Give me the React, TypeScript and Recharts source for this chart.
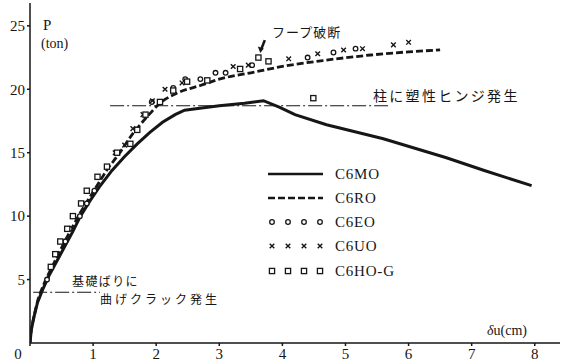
import {
  ComposedChart,
  Line,
  Scatter,
  XAxis,
  YAxis,
  ReferenceLine,
} from "recharts";

// ── Data (δu in cm, P in ton) ─────────────────────────────────────────────
const C6MO = [
  { x: 0, y: 0 }, { x: 0.02, y: 1 }, { x: 0.06, y: 2 }, { x: 0.12, y: 3.2 },
  { x: 0.2, y: 4.2 }, { x: 0.3, y: 5.3 }, { x: 0.42, y: 6.4 }, { x: 0.55, y: 7.6 },
  { x: 0.68, y: 8.8 }, { x: 0.8, y: 10 }, { x: 0.95, y: 11.2 }, { x: 1.1, y: 12.3 },
  { x: 1.3, y: 13.6 }, { x: 1.5, y: 14.7 }, { x: 1.7, y: 15.7 }, { x: 1.9, y: 16.6 },
  { x: 2.1, y: 17.4 }, { x: 2.3, y: 18.0 }, { x: 2.45, y: 18.35 }, { x: 2.6, y: 18.45 },
  { x: 3.0, y: 18.7 }, { x: 3.4, y: 18.9 }, { x: 3.7, y: 19.1 }, { x: 3.95, y: 18.6 },
  { x: 4.2, y: 18.0 }, { x: 4.7, y: 17.2 }, { x: 5.6, y: 16.1 }, { x: 6.6, y: 14.6 },
  { x: 7.2, y: 13.6 }, { x: 7.95, y: 12.4 },
];

const C6RO = [
  { x: 0, y: 0 }, { x: 0.02, y: 1 }, { x: 0.06, y: 2 }, { x: 0.12, y: 3.3 },
  { x: 0.2, y: 4.4 }, { x: 0.3, y: 5.5 }, { x: 0.42, y: 6.7 }, { x: 0.55, y: 8 },
  { x: 0.68, y: 9.2 }, { x: 0.8, y: 10.3 }, { x: 0.95, y: 11.5 }, { x: 1.1, y: 12.7 },
  { x: 1.24, y: 13.8 }, { x: 1.38, y: 14.7 }, { x: 1.63, y: 16.5 }, { x: 1.85, y: 17.8 },
  { x: 2.06, y: 18.9 }, { x: 2.33, y: 19.7 }, { x: 2.7, y: 20.3 }, { x: 3.0, y: 20.8 },
  { x: 3.5, y: 21.3 }, { x: 4.0, y: 21.8 }, { x: 4.7, y: 22.3 }, { x: 5.4, y: 22.7 },
  { x: 6.0, y: 22.95 }, { x: 6.5, y: 23.1 },
];

const C6EO = [
  { x: 0.27, y: 5.0 }, { x: 0.56, y: 8.0 }, { x: 0.63, y: 9.0 }, { x: 0.79, y: 10 },
  { x: 0.9, y: 11.0 }, { x: 1.02, y: 12.0 }, { x: 1.93, y: 19.0 }, { x: 2.27, y: 20.1 },
  { x: 2.46, y: 20.8 }, { x: 2.7, y: 20.8 }, { x: 2.94, y: 21.3 }, { x: 3.1, y: 21.3 },
  { x: 3.52, y: 21.9 }, { x: 4.4, y: 22.5 }, { x: 4.81, y: 22.9 }, { x: 5.16, y: 23.2 },
];

const C6UO = [
  { x: 1.35, y: 15.0 }, { x: 1.5, y: 15.6 }, { x: 1.63, y: 16.9 }, { x: 1.79, y: 18.0 },
  { x: 1.94, y: 19.1 }, { x: 2.14, y: 20.0 }, { x: 2.41, y: 20.5 }, { x: 3.22, y: 21.8 },
  { x: 3.46, y: 21.9 }, { x: 4.1, y: 22.4 }, { x: 4.56, y: 22.8 }, { x: 4.97, y: 23.1 },
  { x: 5.27, y: 23.2 }, { x: 5.76, y: 23.5 }, { x: 6.0, y: 23.7 },
];

const C6HOG = [
  { x: 0.33, y: 6.0 }, { x: 0.4, y: 7.0 }, { x: 0.48, y: 8.0 }, { x: 0.59, y: 9.0 },
  { x: 0.68, y: 10.0 }, { x: 0.81, y: 11.0 }, { x: 0.9, y: 12.0 }, { x: 1.07, y: 13.1 },
  { x: 1.22, y: 13.9 }, { x: 1.38, y: 15.0 }, { x: 1.59, y: 15.7 }, { x: 1.7, y: 16.8 },
  { x: 1.83, y: 18.0 }, { x: 2.06, y: 19.0 }, { x: 2.27, y: 19.9 }, { x: 2.49, y: 20.6 },
  { x: 2.81, y: 20.7 }, { x: 3.33, y: 21.6 }, { x: 3.62, y: 22.5 }, { x: 3.78, y: 22.2 },
  { x: 4.49, y: 19.3 },
];

// arrow tip for "フープ破断"
const HOOP_BREAK = [{ x: 3.65, y: 22.85 }];

const X_TICKS = [0, 1, 2, 3, 4, 5, 6, 7, 8];
const Y_TICKS = [5, 10, 15, 20, 25];

const HINGE_LOAD = 18.7;
const CRACK_LOAD = 4.0;

const INK = "#161616";
const SERIF = "'Liberation Serif', 'Times New Roman', 'DejaVu Serif', serif";
const JP = "'Noto Sans CJK JP', sans-serif";
const DASH_DOT = "14 3 2 3";

// ── Marker shapes ──────────────────────────────────────────────────────────
const CircleMark = ({ cx, cy }: any) => (
  <circle cx={cx} cy={cy} r={2.3} fill="#fff" stroke={INK} strokeWidth={1.3} />
);
const CrossMark = ({ cx, cy }: any) => (
  <path
    d={`M${cx - 2.3},${cy - 2.3}L${cx + 2.3},${cy + 2.3}M${cx + 2.3},${cy - 2.3}L${cx - 2.3},${cy + 2.3}`}
    stroke={INK}
    strokeWidth={1.4}
  />
);
const SquareMark = ({ cx, cy }: any) => (
  <rect x={cx - 2.6} y={cy - 2.6} width={5.2} height={5.2} fill="#fff" stroke={INK} strokeWidth={1.3} />
);
const ArrowMark = ({ cx, cy }: any) => (
  <g>
    <line x1={cx + 4.5} y1={cy - 13} x2={cx + 1} y2={cy - 4} stroke={INK} strokeWidth={2.6} />
    <path d={`M${cx},${cy}L${cx - 2.5},${cy - 6.5}L${cx + 3.5},${cy - 4.5}Z`} fill={INK} />
  </g>
);

const XTick = ({ x, y, payload }: any) => (
  <text
    x={x + (payload.value === 0 ? -12 : 0)}
    y={y}
    dy="0.71em"
    textAnchor="middle"
    fontFamily={SERIF}
    fontSize={15}
    fill={INK}
  >
    {payload.value}
  </text>
);

const YTick = ({ x, y, payload }: any) => (
  <text x={x} y={y} dy="0.355em" textAnchor="end" fontFamily={SERIF} fontSize={15} fill={INK}>
    {payload.value}
  </text>
);

function LegendOverlay() {
  const rows = [
    { name: "C6MO", kind: "solid", y: 174 },
    { name: "C6RO", kind: "dash", y: 198 },
    { name: "C6EO", kind: "circle", y: 222 },
    { name: "C6UO", kind: "cross", y: 246 },
    { name: "C6HO-G", kind: "square", y: 271 },
  ];
  const xs = [272, 288, 304, 320];
  return (
    <g>
      {rows.map((r) => (
        <g key={r.name}>
          {r.kind === "solid" && (
            <line x1={268} x2={323} y1={r.y} y2={r.y} stroke={INK} strokeWidth={2.6} />
          )}
          {r.kind === "dash" && (
            <line x1={268} x2={323} y1={r.y} y2={r.y} stroke={INK} strokeWidth={2.6} strokeDasharray="7 3" />
          )}
          {r.kind === "circle" && xs.map((cx) => <CircleMark key={cx} cx={cx} cy={r.y} />)}
          {r.kind === "cross" && xs.map((cx) => <CrossMark key={cx} cx={cx} cy={r.y} />)}
          {r.kind === "square" && xs.map((cx) => <SquareMark key={cx} cx={cx} cy={r.y} />)}
          <text x={335} y={r.y} dy="0.35em" fontFamily={SERIF} fontSize={15} fill={INK} letterSpacing={0.8}>
            {r.name}
          </text>
        </g>
      ))}
    </g>
  );
}

export default function App() {
  return (
    <div style={{ position: "absolute", left: 0, top: 0, width: 571, height: 364, background: "#fff" }}>
      <ComposedChart width={571} height={364} margin={{ top: 3, right: 11, bottom: 0, left: 5 }}>
        <XAxis
          type="number"
          dataKey="x"
          domain={[0, 8.4]}
          ticks={X_TICKS}
          allowDataOverflow
          height={21}
          stroke={INK}
          strokeWidth={1.5}
          tickSize={3}
          tickMargin={2}
          tick={<XTick />}
        />
        <YAxis
          type="number"
          dataKey="y"
          domain={[0, 26.8]}
          ticks={Y_TICKS}
          allowDataOverflow
          width={25}
          stroke={INK}
          strokeWidth={1.5}
          tickSize={3}
          tickMargin={2}
          tick={<YTick />}
        />
        <ReferenceLine
          segment={[{ x: 1.27, y: HINGE_LOAD }, { x: 5.68, y: HINGE_LOAD }]}
          stroke={INK}
          strokeWidth={1}
          strokeDasharray={DASH_DOT}
        />
        <ReferenceLine
          segment={[{ x: 0.05, y: CRACK_LOAD }, { x: 1.11, y: CRACK_LOAD }]}
          stroke={INK}
          strokeWidth={1}
          strokeDasharray={DASH_DOT}
        />
        <Line
          data={C6MO}
          dataKey="y"
          type="linear"
          stroke={INK}
          strokeWidth={3}
          dot={false}
          isAnimationActive={false}
        />
        <Line
          data={C6RO}
          dataKey="y"
          type="monotoneX"
          stroke={INK}
          strokeWidth={2.8}
          strokeDasharray="7 3"
          dot={false}
          isAnimationActive={false}
        />
        <Scatter data={C6EO} dataKey="y" shape={<CircleMark />} isAnimationActive={false} />
        <Scatter data={C6UO} dataKey="y" shape={<CrossMark />} isAnimationActive={false} />
        <Scatter data={C6HOG} dataKey="y" shape={<SquareMark />} isAnimationActive={false} />
        <Scatter data={HOOP_BREAK} dataKey="y" shape={<ArrowMark />} isAnimationActive={false} />
      </ComposedChart>
      <svg
        width={571}
        height={364}
        style={{ position: "absolute", left: 0, top: 0, pointerEvents: "none" }}
      >
        <text x={43} y={25} dy="0.35em" fontFamily={SERIF} fontSize={15} fill={INK}>P</text>
        <text x={41} y={43} dy="0.35em" fontFamily={SERIF} fontSize={14} fill={INK}>(ton)</text>
        <text x={487} y={330} dy="0.35em" fontFamily={SERIF} fontSize={14} fill={INK} fontStyle="italic">
          δ<tspan fontStyle="normal">u(cm)</tspan>
        </text>
        <text x={272} y={32} dy="0.35em" fontFamily={JP} fontSize={13} fill={INK} letterSpacing={1}>
          フープ破断
        </text>
        <text x={373} y={96} dy="0.35em" fontFamily={JP} fontSize={14} fill={INK} letterSpacing={2.3}>
          柱に塑性ヒンジ発生
        </text>
        <text x={72} y={281.5} dy="0.35em" fontFamily={JP} fontSize={12} fill={INK} letterSpacing={1.4}>
          基礎ばりに
        </text>
        <text x={100} y={299.5} dy="0.35em" fontFamily={JP} fontSize={12} fill={INK} letterSpacing={3}>
          曲げクラック発生
        </text>
        <LegendOverlay />
      </svg>
    </div>
  );
}
